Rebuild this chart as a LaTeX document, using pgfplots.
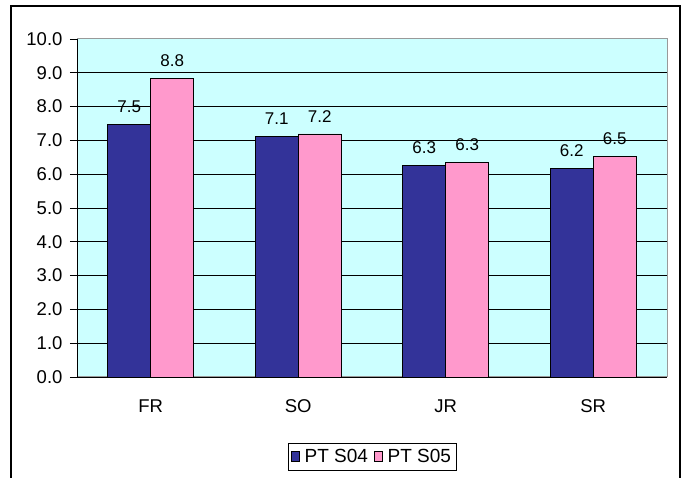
\documentclass[border=0pt]{standalone}
\usepackage{fontspec}
\setmainfont{Liberation Sans}
\usepackage{pgfplots}
\pgfplotsset{compat=1.18}

\definecolor{navybar}{RGB}{51,51,153}
\definecolor{pinkbar}{RGB}{255,153,204}
\definecolor{plotbg}{RGB}{204,255,255}

\begin{document}
\begin{tikzpicture}
  \useasboundingbox (0,0) rectangle (688pt,478pt);
  \clip (0,0) rectangle (688pt,478pt);
  % outer chart frame (bottom edge runs off the picture)
  \draw[line width=1.5pt] (11pt,472pt) rectangle (680pt,-20pt);
  \begin{axis}[
      at={(77pt,101pt)}, anchor=south west,
      scale only axis,
      width=590pt, height=338pt,
      font=\fontsize{18.5}{22}\selectfont,
      tick label style={font=\fontsize{18.5}{22}\selectfont},
      ybar=0pt, bar width=43pt,
      xmin=-0.5, xmax=3.5,
      ymin=0, ymax=10,
      axis background/.style={fill=plotbg, draw=gray!80, line width=1pt},
      axis x line*=bottom, axis y line*=left,
      axis line style={black, line width=0.8pt},
      xtick={0,1,2,3},
      xticklabels={FR,SO,JR,SR},
      xtick style={draw=none},
      xticklabel style={yshift=-12pt},
      extra x ticks={-0.5,0.5,1.5,2.5,3.5},
      extra x tick labels={},
      extra x tick style={tick style={draw=black, line width=0.8pt}, major tick length=7pt},
      ytick={0,1,...,10},
      ytick style={black, line width=0.8pt},
      major tick length=7pt,
      tick align=outside,
      yticklabel style={xshift=-4pt},
      yticklabel={\pgfmathprintnumber[fixed,fixed zerofill,precision=1]{\tick}},
      /pgf/number format/assume math mode=true,
      extra y ticks={1,2,...,9},
      extra y tick labels={},
      extra y tick style={grid=major, major tick length=0pt},
      major grid style={black, line width=0.8pt},
      nodes near coords={\pgfmathprintnumber[fixed,fixed zerofill,precision=1]{\pgfplotspointmeta}},
      every node near coord/.append style={yshift=8pt, font=\fontsize{17}{20}\selectfont},
      legend style={
          at={(0.5,-0.235)}, anchor=center,
          draw=black, line width=0.6pt,
          legend columns=-1,
          font=\fontsize{19}{22}\selectfont,
          inner xsep=3pt, inner ysep=4pt,
          /tikz/every even column/.append style={column sep=4pt}
      },
      legend image code/.code={
          \draw[#1, draw=black, line width=0.6pt] (0pt,-5pt) rectangle (8pt,5pt);
          \path (11pt,0pt);
      },
    ]
    % PT S04
    \addplot[fill=navybar, draw=black, line width=0.8pt] coordinates {
      (0, 7.48) (1, 7.12) (2, 6.26) (3, 6.18) };
    % PT S05
    \addplot[fill=pinkbar, draw=black, line width=0.8pt] coordinates {
      (0, 8.83) (1, 7.19) (2, 6.34) (3, 6.53) };
    \legend{PT S04,PT S05}
  \end{axis}
\end{tikzpicture}
\end{document}
